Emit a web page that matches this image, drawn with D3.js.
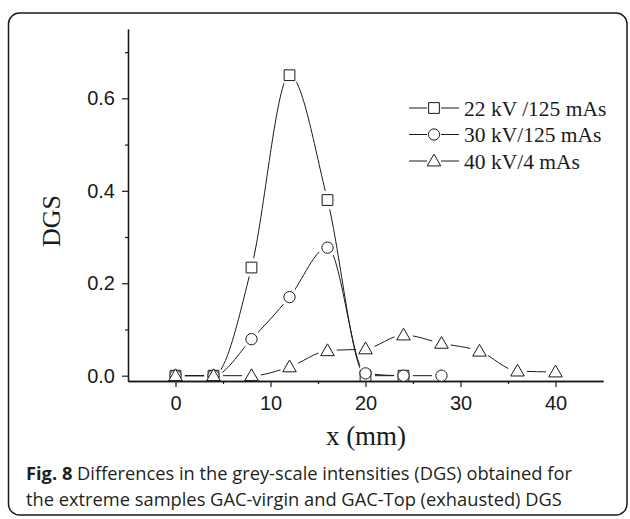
<!DOCTYPE html>
<html>
<head>
<meta charset="utf-8">
<script src="https://cdn.jsdelivr.net/npm/d3@7"></script>
<style>
  html, body { margin: 0; padding: 0; background: #fff; }
  svg { display: block; }
</style>
</head>
<body>
<svg id="chart" width="630" height="519"></svg>
<script>
// ---- data ----
const xValues22 = [0, 4, 8, 12, 16, 20, 24];
const dgs22 = [0.0, 0.0, 0.234, 0.650, 0.380, 0.0, 0.0];
const xValues30 = [0, 4, 8, 12, 16, 20, 24, 28];
const dgs30 = [0.0, 0.0, 0.079, 0.170, 0.277, 0.005, 0.0, 0.0];
const xValues40 = [0, 4, 8, 12, 16, 20, 24, 28, 32, 36, 40];
const dgs40 = [0.0, 0.0, 0.0, 0.019, 0.054, 0.058, 0.088, 0.070, 0.053, 0.010, 0.008];
const seriesNames = ["22 kV /125 mAs", "30 kV/125 mAs", "40 kV/4 mAs"];
const seriesSymbols = ["square", "circle", "triangle"];
const xTicks = [0, 10, 20, 30, 40];
const xMinorTicks = [5, 15, 25, 35];
const yTicks = [0.0, 0.2, 0.4, 0.6];
const yMinorTicks = [0.1, 0.3, 0.5, 0.7];
const xTitle = "x (mm)";
const yTitle = "DGS";
const captionBold = "Fig. 8";
const captionLine1 = " Differences in the grey-scale intensities (DGS) obtained for";
const captionLine2 = "the extreme samples GAC-virgin and GAC-Top (exhausted) DGS";

const series = [
  { name: seriesNames[0], sym: seriesSymbols[0], pts: xValues22.map((x, i) => [x, dgs22[i]]) },
  { name: seriesNames[1], sym: seriesSymbols[1], pts: xValues30.map((x, i) => [x, dgs30[i]]) },
  { name: seriesNames[2], sym: seriesSymbols[2], pts: xValues40.map((x, i) => [x, dgs40[i]]) }
];

const svg = d3.select("#chart");
const ink = "#1a1a1a";

// frame
svg.append("rect")
  .attr("x", 8.5).attr("y", 13).attr("width", 618.5).attr("height", 502)
  .attr("rx", 11).attr("ry", 11)
  .attr("fill", "none").attr("stroke", ink).attr("stroke-width", 1.5);

const x = d3.scaleLinear().domain([-5, 45]).range([128, 603]);
const y = d3.scaleLinear().domain([-0.0115, 0.75]).range([381, 29]);

const symSize = { square: 115, circle: 100, triangle: 80 };
function symPath(s) {
  const t = s === "square" ? d3.symbolSquare : s === "circle" ? d3.symbolCircle : d3.symbolTriangle;
  return d3.symbol().type(t).size(symSize[s])();
}

const defs = svg.append("defs");
const line = d3.line().x(d => x(d[0])).y(d => y(d[1])).curve(d3.curveMonotoneX);

series.forEach((s, i) => {
  const m = defs.append("mask").attr("id", "m" + i).attr("maskUnits", "userSpaceOnUse")
    .attr("x", 0).attr("y", 0).attr("width", 630).attr("height", 519);
  m.append("rect").attr("x", 0).attr("y", 0).attr("width", 630).attr("height", 519).attr("fill", "#fff");
  m.selectAll("circle").data(s.pts).join("circle")
    .attr("cx", d => x(d[0])).attr("cy", d => y(d[1])).attr("r", 9.5).attr("fill", "#000");
  svg.append("path").datum(s.pts)
    .attr("d", line)
    .attr("fill", "none").attr("stroke", ink).attr("stroke-width", 1)
    .attr("mask", "url(#m" + i + ")");
});

// axes
svg.append("g").attr("transform", "translate(0,381)")
  .call(d3.axisBottom(x).tickValues(xTicks).tickFormat(d3.format("d")).tickSize(6).tickSizeOuter(0).tickPadding(9));
svg.append("g").attr("transform", "translate(0,381)")
  .call(d3.axisBottom(x).tickValues(xMinorTicks).tickFormat("").tickSize(3).tickSizeOuter(0));
svg.append("g").attr("transform", "translate(128,0)")
  .call(d3.axisLeft(y).tickValues(yTicks).tickFormat(d3.format(".1f")).tickSize(6).tickSizeOuter(0).tickPadding(7));
svg.append("g").attr("transform", "translate(128,0)")
  .call(d3.axisLeft(y).tickValues(yMinorTicks).tickFormat("").tickSize(3).tickSizeOuter(0));

svg.selectAll(".domain").attr("stroke", ink).attr("stroke-width", 1.3);
svg.selectAll(".tick line").attr("stroke", ink).attr("stroke-width", 1.2);
svg.selectAll(".tick text")
  .attr("font-family", "Liberation Sans, Arial, sans-serif")
  .attr("font-size", 20).attr("fill", ink);

// markers
series.forEach(s => {
  svg.append("g").selectAll("path").data(s.pts).join("path")
    .attr("transform", d => `translate(${x(d[0])},${y(d[1]) + (s.sym === "triangle" ? 1 : 0)})`)
    .attr("d", symPath(s.sym))
    .attr("fill", "#fff").attr("stroke", ink).attr("stroke-width", 1);
});

// axis titles
svg.append("text")
  .attr("x", 366).attr("y", 445)
  .attr("text-anchor", "middle")
  .attr("font-family", "Liberation Serif, Times New Roman, serif")
  .attr("font-size", 27).attr("fill", ink)
  .text(xTitle);
svg.append("text")
  .attr("transform", "translate(60,221) rotate(-90)")
  .attr("text-anchor", "middle")
  .attr("font-family", "Liberation Serif, Times New Roman, serif")
  .attr("font-size", 26).attr("fill", ink)
  .text(yTitle);

// legend
const leg = svg.append("g");
const rowY = [108, 134.5, 161];
series.forEach((s, i) => {
  const g = leg.append("g").attr("transform", `translate(0,${rowY[i]})`);
  g.append("line").attr("x1", 409).attr("x2", 427).attr("y1", 0).attr("y2", 0).attr("stroke", ink).attr("stroke-width", 1);
  g.append("line").attr("x1", 441).attr("x2", 459).attr("y1", 0).attr("y2", 0).attr("stroke", ink).attr("stroke-width", 1);
  g.append("path").attr("transform", `translate(434,${s.sym === "triangle" ? 1 : 0})`)
    .attr("d", symPath(s.sym)).attr("fill", "#fff").attr("stroke", ink).attr("stroke-width", 1);
  g.append("text").attr("x", 464).attr("y", 7.5)
    .attr("font-family", "Liberation Serif, Times New Roman, serif")
    .attr("font-size", 21.5).attr("fill", ink)
    .text(s.name);
});

// caption
const cap = svg.append("text")
  .attr("x", 26).attr("y", 480)
  .attr("font-family", "Open Sans, Noto Sans, sans-serif")
  .attr("font-size", 18.3).attr("fill", "#231f20");
cap.append("tspan").attr("font-weight", "bold").text(captionBold);
cap.append("tspan").text(captionLine1);
svg.append("text")
  .attr("x", 26).attr("y", 506)
  .attr("font-family", "Open Sans, Noto Sans, sans-serif")
  .attr("font-size", 18.3).attr("fill", "#231f20")
  .text(captionLine2);
</script>
</body>
</html>
